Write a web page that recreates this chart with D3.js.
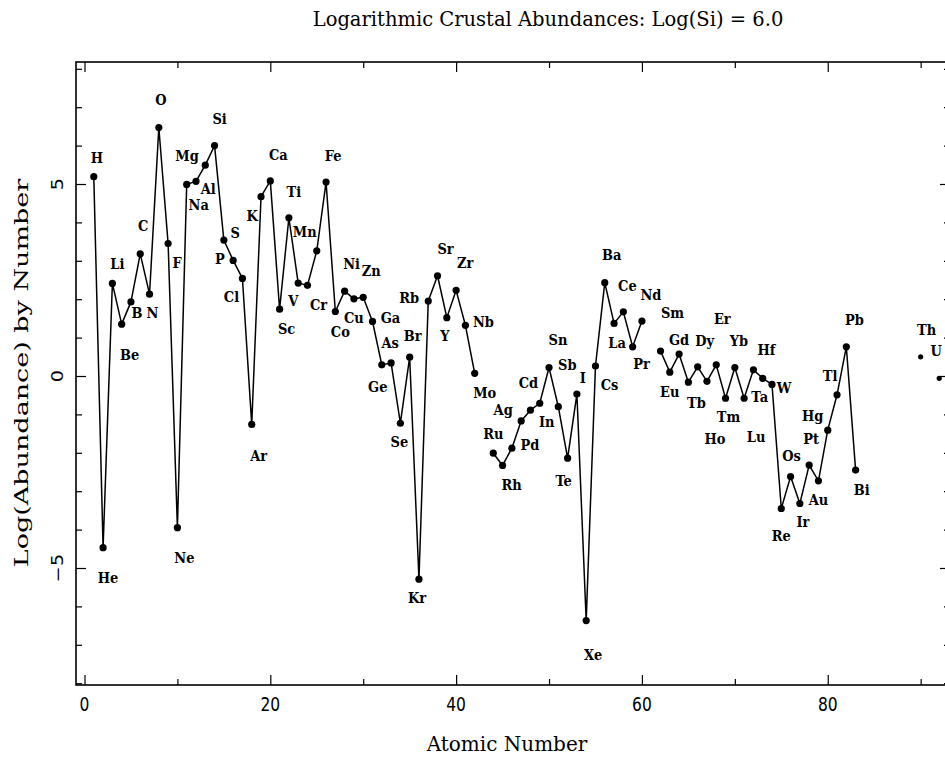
<!DOCTYPE html>
<html><head><meta charset="utf-8">
<script src="https://cdn.jsdelivr.net/npm/d3@7/dist/d3.min.js"></script>
<style>body{margin:0;background:#fff}svg{display:block}</style>
</head><body>
<svg id="chart" width="945" height="758"></svg>
<script>
// ---------- data ----------
const atomicNumbers = [1,2,3,4,5,6,7,8,9,10,11,12,13,14,15,16,17,18,19,20,
  21,22,23,24,25,26,27,28,29,30,31,32,33,34,35,36,37,38,39,40,
  41,42,43,44,45,46,47,48,49,50,51,52,53,54,55,56,57,58,59,60,
  61,62,63,64,65,66,67,68,69,70,71,72,73,74,75,76,77,78,79,80,
  81,82,83,84,85,86,87,88,89,90,91,92];
const symbols = ["H","He","Li","Be","B","C","N","O","F","Ne","Na","Mg","Al","Si","P","S","Cl","Ar","K","Ca",
  "Sc","Ti","V","Cr","Mn","Fe","Co","Ni","Cu","Zn","Ga","Ge","As","Se","Br","Kr","Rb","Sr","Y","Zr",
  "Nb","Mo","Tc","Ru","Rh","Pd","Ag","Cd","In","Sn","Sb","Te","I","Xe","Cs","Ba","La","Ce","Pr","Nd",
  "Pm","Sm","Eu","Gd","Tb","Dy","Ho","Er","Tm","Yb","Lu","Hf","Ta","W","Re","Os","Ir","Pt","Au","Hg",
  "Tl","Pb","Bi","Po","At","Rn","Fr","Ra","Ac","Th","Pa","U"];
const logAbundance = [5.19,-4.47,2.41,1.35,1.93,3.18,2.13,6.47,3.45,-3.95,4.99,5.07,5.49,6.00,3.54,3.01,2.54,-1.26,4.67,5.08,
  1.74,4.12,2.42,2.36,3.26,5.05,1.68,2.21,2.01,2.05,1.42,0.29,0.34,-1.23,0.49,-5.29,1.95,2.61,1.52,2.23,
  1.32,0.07,null,-2.01,-2.33,-1.88,-1.17,-0.89,-0.71,0.22,-0.80,-2.14,-0.47,-6.37,0.26,2.43,1.37,1.67,0.76,1.43,
  null,0.65,0.10,0.57,-0.16,0.24,-0.14,0.29,-0.58,0.22,-0.58,0.16,-0.06,-0.22,-3.45,-2.62,-3.32,-2.32,-2.73,-1.41,
  -0.49,0.76,-2.45,null,null,null,null,null,null,0.50,null,-0.06];
// elements plotted as isolated points (not joined by the line)
const isolated = ["Th","U"];
const xMajorTicks = [0,20,40,60,80];
const xMinorTicks = [10,30,50,70,90];
const xTickLabels = ["0","20","40","60","80"];
const yMajorTicks = [-5,0,5];
const yMinorTicks = [-8,-7,-6,-4,-3,-2,-1,1,2,3,4,6,7,8];
const yTickLabels = ["\u22125","0","5"];
const titleText = "Logarithmic Crustal Abundances: Log(Si) = 6.0";
const xTitle = "Atomic Number";
const yTitle = "Log(Abundance) by Number";

// ---------- layout (label placement offsets in px, relative to the point) ----------
const labelOffsets = {H:[3,-19],He:[5,30],Li:[5,-20],Be:[8,30],B:[6,11],C:[3,-28],N:[3,18],O:[2,-28],F:[9,19],Ne:[7,30],
  Na:[12,20],Mg:[-9,-26],Al:[3,23],Si:[5,-27],P:[-4,19],S:[2,-28],Cl:[-11,18],Ar:[7,31],K:[-9,19],Ca:[8,-26],
  Sc:[7,19],Ti:[5,-26],V:[-5,17],Cr:[11,19],Mn:[-12,-19],Fe:[7,-27],Co:[5,20],Ni:[7,-28],Cu:[0,19],Zn:[8,-27],
  Ga:[18,-4],Ge:[-4,22],As:[-1,-20],Se:[-1,18],Br:[3,-22],Kr:[-2,18],Rb:[-19,-4],Sr:[8,-27],Y:[-2,18],Zr:[9,-28],
  Nb:[18,-4],Mo:[10,19],Ru:[0,-20],Rh:[9,19],Pd:[18,-4],Ag:[-18,-11],Cd:[-2,-28],In:[7,18],Sn:[9,-28],Sb:[9,-42],
  Te:[-4,22],I:[6,-16],Xe:[7,34],Cs:[14,19],Ba:[7,-28],La:[3,19],Ce:[4,-26],Pr:[9,17],Nd:[9,-27],Sm:[12,-38],
  Eu:[0,19],Gd:[0,-15],Tb:[8,20],Dy:[7,-26],Ho:[8,57],Er:[6,-46],Tm:[3,18],Yb:[4,-27],Lu:[12,38],Hf:[13,-20],
  Ta:[-3,18],W:[12,3],Re:[0,27],Os:[1,-21],Ir:[3,18],Pt:[2,-27],Au:[0,19],Hg:[-15,-15],Tl:[-7,-19],Pb:[8,-27],
  Bi:[6,19],Th:[6,-27],U:[-3,-28]};

const W = 945, H = 758;
const L = 76, R = 950, T = 62, B = 685;
const K = 1.25; // vertical stretch of lettering in the reference

const svg = d3.select("#chart");
svg.append("rect").attr("width", W).attr("height", H).attr("fill", "#fff");

const x = d3.scaleLinear().domain([-0.915, 93.16]).range([L, R]);
const y = d3.scaleLinear().domain([-8.047, 8.177]).range([B, T]);

const data = atomicNumbers.map((z, i) => ({z, sym: symbols[i], v: logAbundance[i]}));
const present = data.filter(d => d.v !== null);
const joined = data.map(d => (isolated.includes(d.sym) ? {...d, v: null} : d));

const serif = "'DejaVu Serif', 'Liberation Serif', serif";

// frame
svg.append("rect").attr("x", L).attr("y", T).attr("width", R - L).attr("height", B - T)
  .attr("fill", "none").attr("stroke", "#000").attr("stroke-width", 1.6);

function drawAxis(gen, tx, ty) {
  const g = svg.append("g").attr("transform", `translate(${tx},${ty})`).call(gen);
  g.select(".domain").remove();
  g.selectAll("text").remove();
  g.selectAll("line").attr("stroke", "#000").attr("stroke-width", 1.2);
  return g;
}
drawAxis(d3.axisBottom(x).tickValues(xMajorTicks).tickSize(-10), 0, B);
drawAxis(d3.axisBottom(x).tickValues(xMinorTicks).tickSize(-6), 0, B);
drawAxis(d3.axisTop(x).tickValues(xMajorTicks).tickSize(-10), 0, T);
drawAxis(d3.axisTop(x).tickValues(xMinorTicks).tickSize(-6), 0, T);
drawAxis(d3.axisLeft(y).tickValues(yMajorTicks).tickSize(-10), L, 0);
drawAxis(d3.axisLeft(y).tickValues(yMinorTicks).tickSize(-6), L, 0);
drawAxis(d3.axisRight(y).tickValues(yMajorTicks).tickSize(-10), R, 0);
drawAxis(d3.axisRight(y).tickValues(yMinorTicks).tickSize(-6), R, 0);

// stretched text helper
function stretchedText(parent, str, px, py, opts = {}) {
  const t = parent.append("text")
    .attr("transform", `translate(${px},${py}) scale(1,${opts.k || K})${opts.rotate ? " rotate(-90)" : ""}`)
    .attr("text-anchor", opts.anchor || "middle")
    .attr("font-family", opts.family || serif)
    .attr("font-size", opts.size || 14)
    .attr("font-weight", opts.weight || "normal")
    .attr("fill", "#000")
    .text(str);
  if (opts.central) t.attr("dominant-baseline", "central");
  return t;
}

// x tick labels
const xl = svg.append("g");
xMajorTicks.forEach((v, i) => stretchedText(xl, xTickLabels[i], x(v), 711,
  {family: "'DejaVu Sans', sans-serif", size: 15.5}));
// y tick labels (rotated)
const yl = svg.append("g");
yMajorTicks.forEach((v, i) => stretchedText(yl, yTickLabels[i], 63, y(v),
  {family: "'DejaVu Sans', sans-serif", size: 15.5, rotate: true, k: 1.25}));

// titles
stretchedText(svg, titleText, 548, 26, {size: 19.5, k: 1.0});
stretchedText(svg, xTitle, 507, 751, {size: 20, k: 1.0});
stretchedText(svg, yTitle, 28, 373, {size: 18, rotate: true, k: 1.5});

// line
const line = d3.line().defined(d => d.v !== null).x(d => x(d.z)).y(d => y(d.v));
svg.append("path").datum(joined).attr("d", line)
  .attr("fill", "none").attr("stroke", "#000").attr("stroke-width", 1.5).attr("stroke-linejoin", "round");

// points
svg.append("g").selectAll("circle").data(present).join("circle")
  .attr("cx", d => x(d.z)).attr("cy", d => y(d.v))
  .attr("r", d => isolated.includes(d.sym) ? 2.6 : 3.6).attr("fill", "#000");

// element labels
const lg = svg.append("g");
present.forEach(d => {
  const o = labelOffsets[d.sym] || [0, -18];
  stretchedText(lg, d.sym, x(d.z) + o[0], y(d.v) + o[1],
    {size: 13, weight: "bold", central: true, k: 1.2});
});
</script>
</body></html>
